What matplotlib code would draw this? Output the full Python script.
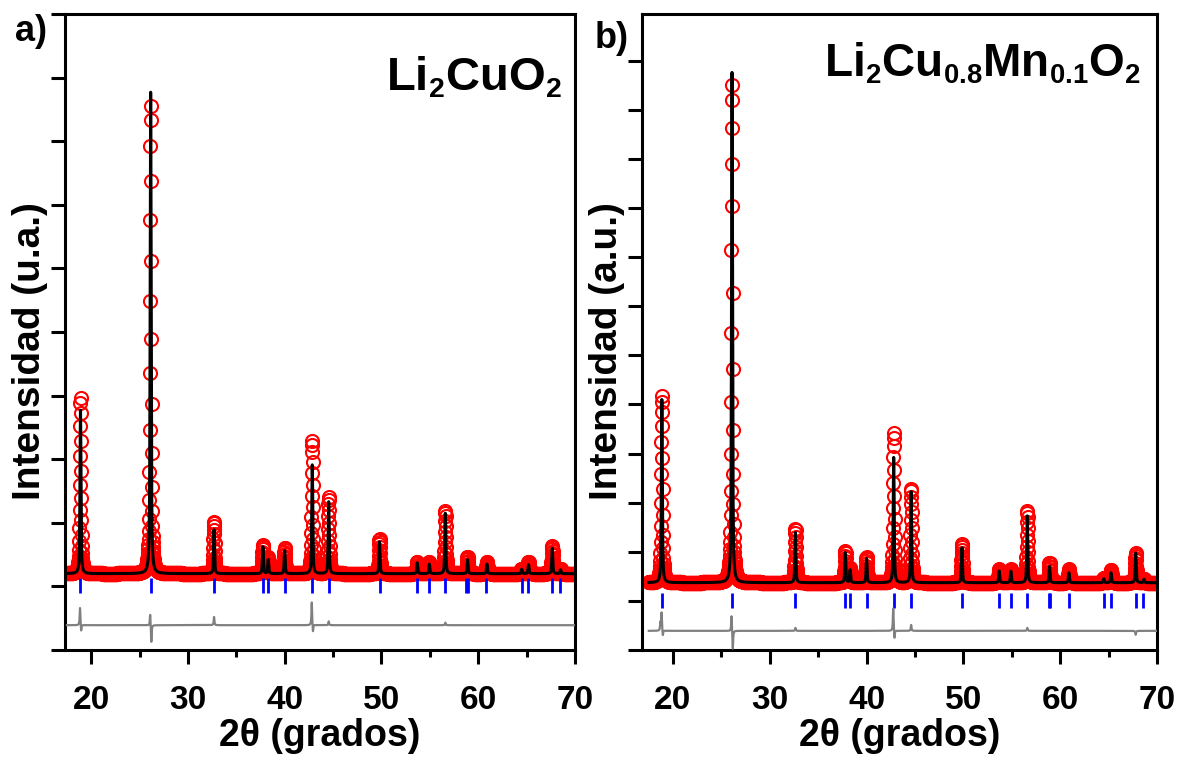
import numpy as np
import matplotlib
matplotlib.use('Agg')
import matplotlib.pyplot as plt
import matplotlib._mathtext as mt

# smaller subscripts, closer to the Origin look of the original
mt.SHRINK_FACTOR = 0.6

plt.rcParams['font.family'] = ['Liberation Sans', 'DejaVu Sans']
plt.rcParams['font.weight'] = 'bold'
plt.rcParams['axes.labelweight'] = 'bold'
plt.rcParams['mathtext.fontset'] = 'custom'
plt.rcParams['mathtext.rm'] = 'Liberation Sans:bold'
plt.rcParams['mathtext.bf'] = 'Liberation Sans:bold'
plt.rcParams['mathtext.default'] = 'bf'

# ---- panel a) Li2CuO2 ----
peaks_a = [18.9, 26.15, 32.7, 37.75, 38.3, 40.0, 42.85, 44.55, 49.8, 53.7,
           54.95, 56.6, 58.9, 60.9, 64.5, 65.2, 67.65, 68.5]
calc_top_a = [3.77, 8.77, 1.89, 1.62, 1.42, 1.56, 2.91, 2.33, 1.70, 1.37,
              1.35, 2.15, 1.42, 1.35, 1.27, 1.34, 1.60, 1.26]
obs_top_a = [3.98, 8.58, 2.02, 1.65, 1.45, 1.61, 3.30, 2.40, 1.75, 1.39,
             1.38, 2.19, 1.47, 1.39, 1.28, 1.39, 1.63, 1.27]
base_a = 1.2
bragg_a = [18.9, 26.15, 32.7, 37.75, 38.3, 40.0, 42.85, 44.55, 49.8, 53.7,
           54.9, 56.6, 58.75, 58.9, 60.85, 64.5, 65.15, 67.65, 68.5]
diff_pos_a = [18.85, 18.97, 26.1, 26.22, 32.7, 42.8, 42.92, 44.55, 56.6]
diff_amp_a = [0.28, -0.11, 0.19, -0.28, 0.13, 0.37, -0.13, 0.06, 0.04]
diff_base_a = 0.39

# ---- panel b) Li2Cu0.8Mn0.1O2 ----
peaks_b = [18.85, 26.1, 32.65, 37.8, 38.3, 40.0, 42.8, 44.6, 49.85, 53.7,
           54.9, 56.6, 58.9, 60.9, 64.5, 65.25, 67.8, 68.65]
calc_top_b = [5.10, 11.76, 2.39, 1.98, 1.63, 1.86, 3.92, 3.22, 2.08, 1.61,
              1.60, 2.73, 1.70, 1.57, 1.45, 1.57, 1.97, 1.44]
obs_top_b = [5.18, 11.55, 2.47, 2.02, 1.66, 1.89, 4.42, 3.29, 2.16, 1.64,
             1.64, 2.84, 1.78, 1.64, 1.47, 1.63, 1.97, 1.45]
base_b = 1.37
bragg_b = [18.85, 26.1, 32.65, 37.8, 38.3, 40.0, 42.8, 44.55, 49.85, 53.7,
           54.9, 56.6, 58.8, 58.95, 60.9, 64.5, 65.2, 67.8, 68.6]
diff_pos_b = [18.7, 18.82, 18.95, 26.05, 26.18, 32.65, 42.75, 42.88, 44.6, 56.6, 67.8]
diff_amp_b = [0.16, 0.37, -0.12, 0.33, -0.39, 0.06, 0.47, -0.18, 0.12, 0.06, -0.08]
diff_base_b = 0.39

# measured points every 0.02 deg, calculated curve on a finer grid
two_theta_obs = np.arange(17.505, 70.01, 0.02)
two_theta = np.arange(17.5, 70.001, 0.005)


def profile(x, pos, top, base, fwhm, eta=0.6):
    y = np.full_like(x, base)
    hw = fwhm / 2
    for p, t in zip(pos, top):
        d = (x - p) / hw
        y += (t - base) * (eta / (1 + d ** 2) + (1 - eta) * np.exp(-np.log(2) * d ** 2))
    return y


def diff_curve(x, pos, amp, base, fwhm=0.08):
    y = np.full_like(x, base)
    hw = fwhm / 2
    for p, a in zip(pos, amp):
        y += a / (1 + ((x - p) / hw) ** 2)
    return y


fig = plt.figure(figsize=(11.77, 7.59), dpi=100)
ax_a = fig.add_axes([65 / 1177, 109 / 759, 510 / 1177, 636 / 759])
ax_b = fig.add_axes([642 / 1177, 109 / 759, 515 / 1177, 636 / 759])

panels = [
    (ax_a, peaks_a, obs_top_a, calc_top_a, base_a, bragg_a, (0.90, 1.13),
     diff_pos_a, diff_amp_a, diff_base_a, (17.3, 70), 10.0, 'Intensidad (u.a.)'),
    (ax_b, peaks_b, obs_top_b, calc_top_b, base_b, bragg_b, (0.86, 1.16),
     diff_pos_b, diff_amp_b, diff_base_b, (16.8, 70), 12.95, 'Intensidad (a.u.)'),
]

for (ax, pk, obs_top, calc_top, base, bragg, btick, dpos, damp, dbase,
     xlim, ytop, ylab) in panels:
    obs = profile(two_theta_obs, pk, obs_top, base, 0.15)
    calc = profile(two_theta, pk, calc_top, base, 0.12)
    diff = diff_curve(two_theta, dpos, damp, dbase)

    ax.plot(two_theta_obs, obs, 'o', mfc='none', mec='#ff0000', ms=9.4, mew=1.5, zorder=2)
    ax.plot(two_theta, calc, color='black', lw=2.2, zorder=3)
    ax.vlines(bragg, btick[0], btick[1], color='#0000ff', lw=2.0, zorder=3)
    ax.plot(two_theta, diff, color='#808080', lw=1.6, zorder=3)

    ax.set_xlim(*xlim)
    ax.set_ylim(0, ytop)
    ax.set_xticks(np.arange(20, 71, 10))
    ax.set_xticks(np.arange(25, 70, 10), minor=True)
    ax.set_yticks(np.arange(0, ytop + 0.01, 1))
    for s in ax.spines.values():
        s.set_linewidth(2.2)
    ax.tick_params(axis='both', which='major', direction='out', length=10, width=2.2)
    ax.tick_params(axis='x', which='minor', direction='out', length=5, width=2.2)
    ax.tick_params(axis='x', labelsize=24, pad=15)
    ax.tick_params(axis='y', labelleft=False)
    ax.set_xlabel('2θ (grados)', fontsize=27, labelpad=2)
    ax.set_ylabel(ylab, fontsize=28, labelpad=2)
    ax.yaxis.label.set_y(0.47)

ax_a.text(0.975, 0.88, r'$Li_2CuO_2$', transform=ax_a.transAxes,
          ha='right', va='baseline', fontsize=34)
ax_b.text(0.97, 0.902, r'$Li_2Cu_{0.8}Mn_{0.1}O_2$', transform=ax_b.transAxes,
          ha='right', va='baseline', fontsize=33)

fig.text(15 / 1177, 1 - 14 / 759, 'a)', ha='left', va='top', fontsize=26)
fig.text(595 / 1177, 1 - 21 / 759, 'b)', ha='left', va='top', fontsize=26)

fig.savefig('out.png', dpi=100)
